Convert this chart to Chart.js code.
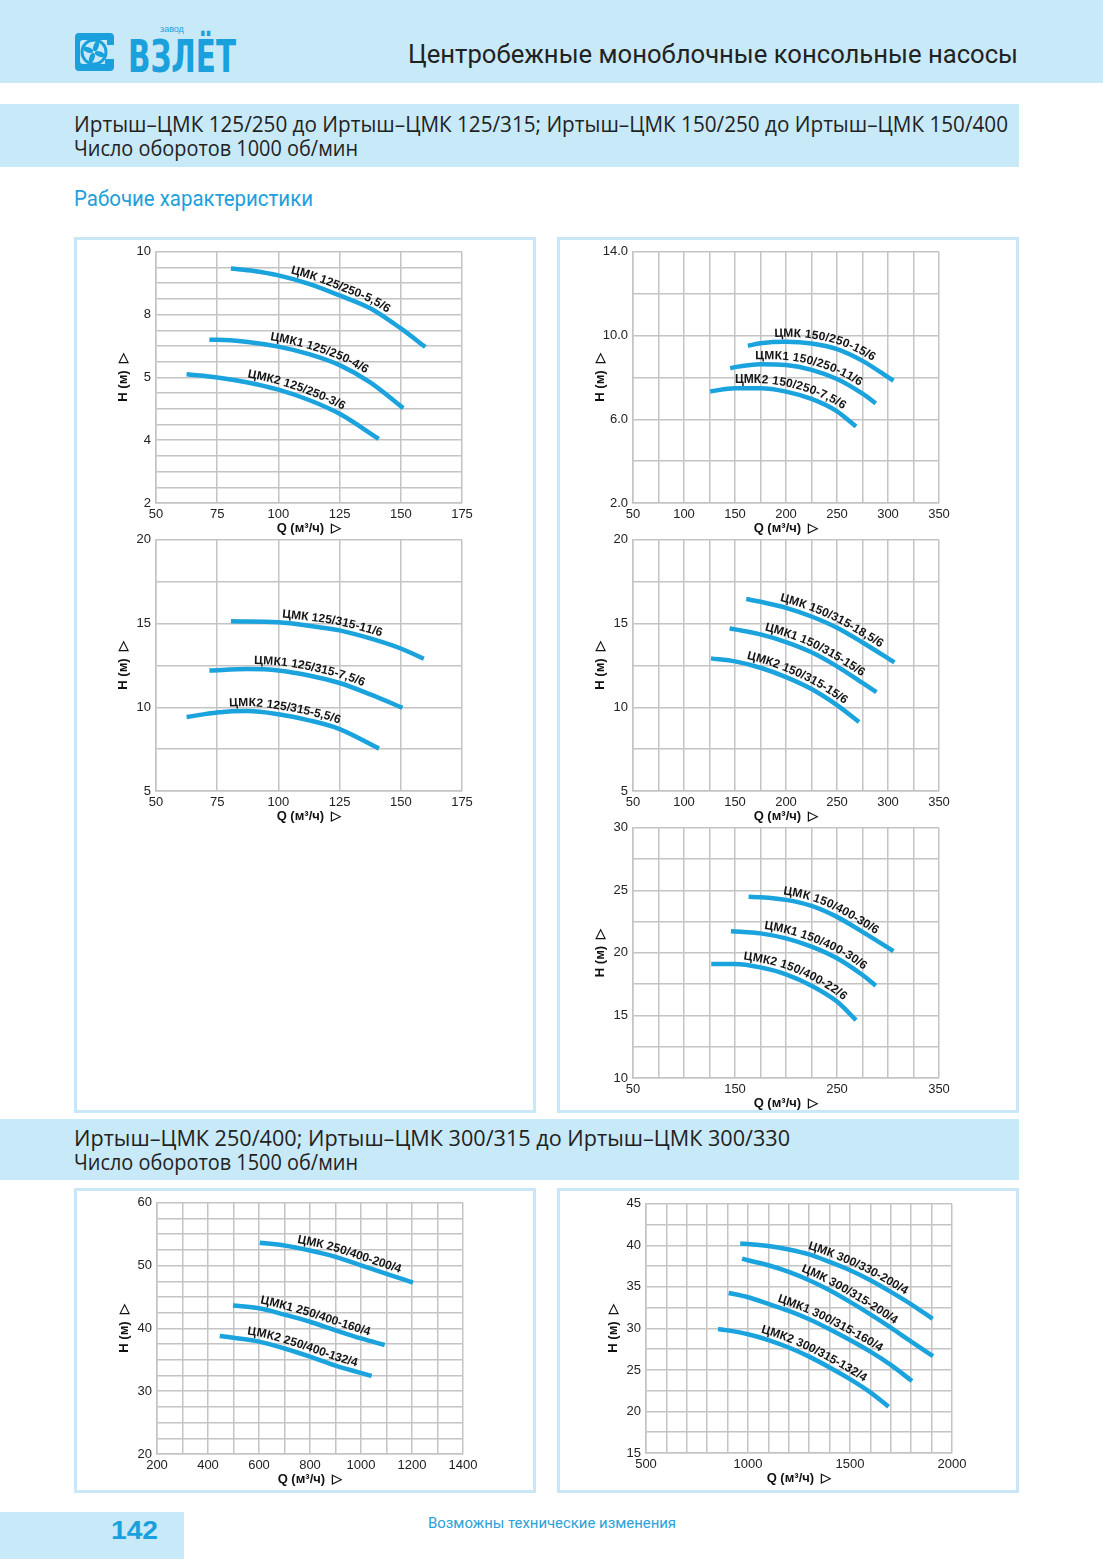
<!DOCTYPE html>
<html>
<head>
<meta charset="utf-8">
<script src="https://cdn.jsdelivr.net/npm/chart.js@4.4.0/dist/chart.umd.min.js"></script>
<style>
  body { margin: 0; width: 1103px; height: 1559px; position: relative; background: #fff; overflow: hidden; }
  .band { position: absolute; background: #c8e9f8; }
  .panel { position: absolute; border: 3px solid #c9e7f6; box-sizing: border-box; }
  .txt { position: absolute; white-space: nowrap; transform-origin: 0 0; }
  canvas { position: absolute; }
</style>
</head>
<body>

<div class="band" style="left:0;top:0;width:1103px;height:83px"></div>
<div class="band" style="left:0;top:104px;width:1019px;height:63px"></div>
<div class="band" style="left:0;top:1119px;width:1019px;height:61px"></div>
<div class="band" style="left:0;top:1512px;width:184px;height:47px"></div>

<div class="panel" style="left:74px;top:237px;width:462px;height:876px"></div>
<div class="panel" style="left:557px;top:237px;width:462px;height:876px"></div>
<div class="panel" style="left:74px;top:1188px;width:462px;height:305px"></div>
<div class="panel" style="left:557px;top:1188px;width:462px;height:305px"></div>

<!-- logo -->
<svg style="position:absolute;left:73px;top:31px" width="42" height="42" viewBox="0 0 42 42">
  <path d="M6 2 H37 a4 4 0 0 1 4 4 V14 H34 V9 H10 a3 3 0 0 0 -3 3 V30 a3 3 0 0 0 3 3 H32 V28 H41 V36 a4 4 0 0 1 -4 4 H6 a4 4 0 0 1 -4 -4 V6 a4 4 0 0 1 4 -4 z" fill="#1aa0dc"/>
  <circle cx="21" cy="21" r="12" fill="none" stroke="#1aa0dc" stroke-width="3"/>
  <g fill="#1aa0dc">
    <ellipse cx="21" cy="15" rx="2.6" ry="5" transform="rotate(20 21 21)"/>
    <ellipse cx="21" cy="15" rx="2.6" ry="5" transform="rotate(110 21 21)"/>
    <ellipse cx="21" cy="15" rx="2.6" ry="5" transform="rotate(200 21 21)"/>
    <ellipse cx="21" cy="15" rx="2.6" ry="5" transform="rotate(290 21 21)"/>
  </g>
</svg>
<div class="txt" id="logo" style="left:128px;top:35px;font:bold 44px 'DejaVu Sans Condensed','DejaVu Sans',sans-serif;line-height:44px;color:#1aa0dc">ВЗЛЁТ</div>
<div class="txt" style="left:160px;top:24px;font:9px 'Liberation Sans',Arial,sans-serif;color:#1aa0dc">завод</div>

<div class="txt" id="t-head" style="left:408px;top:42px;font:25px Roboto,sans-serif;line-height:25px;color:#222">Центробежные моноблочные консольные насосы</div>

<div class="txt" id="t-s1a" style="left:74px;top:114px;font:21px 'Open Sans',sans-serif;line-height:21px;color:#222">Иртыш–ЦМК 125/250 до Иртыш–ЦМК 125/315; Иртыш–ЦМК 150/250 до Иртыш–ЦМК 150/400</div>
<div class="txt" id="t-s1b" style="left:74px;top:138px;font:21px 'Open Sans',sans-serif;line-height:21px;color:#222">Число оборотов 1000 об/мин</div>
<div class="txt" id="t-work" style="left:74px;top:188px;font:22px Roboto,sans-serif;line-height:22px;color:#1e9fdb">Рабочие характеристики</div>

<div class="txt" id="t-s2a" style="left:74px;top:1128px;font:21px 'Open Sans',sans-serif;line-height:21px;color:#222">Иртыш–ЦМК 250/400; Иртыш–ЦМК 300/315 до Иртыш–ЦМК 300/330</div>
<div class="txt" id="t-s2b" style="left:74px;top:1152px;font:21px 'Open Sans',sans-serif;line-height:21px;color:#222">Число оборотов 1500 об/мин</div>

<div class="txt" id="t-page" style="left:111px;top:1518px;font:bold 25px 'Liberation Sans',Arial,sans-serif;line-height:25px;color:#1aa0dc">142</div>
<div class="txt" id="t-foot" style="left:428px;top:1516px;font:15px Roboto,sans-serif;line-height:15px;color:#2aa2d8">Возможны технические изменения</div>

<canvas id="c1"></canvas>
<canvas id="c2"></canvas>
<canvas id="c3"></canvas>
<canvas id="c4"></canvas>
<canvas id="c5"></canvas>
<canvas id="c6"></canvas>
<canvas id="c7"></canvas>

<script>
// ЦМК 125/250 (1000 об/мин)
const q1a = [80.6, 90, 100, 112.5, 125, 137.5, 150, 160];
const h1a = [9.47, 9.39, 9.25, 8.98, 8.61, 8.2, 7.56, 6.97];
const q1b = [71.8, 75, 87.5, 100, 112.5, 125, 137.5, 151];
const h1b = [7.2, 7.2, 7.13, 6.98, 6.74, 6.39, 5.84, 5.02];
const q1c = [62.5, 75, 87.5, 100, 112.5, 125, 141];
const h1c = [6.1, 6.0, 5.84, 5.61, 5.28, 4.84, 4.04];
const names1 = ['ЦМК 125/250-5,5/6', 'ЦМК1 125/250-4/6', 'ЦМК2 125/250-3/6'];
const at1 = [104, 95.8, 86.6];

// ЦМК 150/250
const q2a = [162.6, 175, 200, 225, 250, 275, 305.3];
const h2a = [9.51, 9.63, 9.7, 9.62, 9.35, 8.79, 7.84];
const q2b = [145.3, 150, 175, 200, 225, 250, 275, 288];
const h2b = [8.44, 8.49, 8.63, 8.59, 8.36, 7.92, 7.22, 6.76];
const q2c = [125.7, 150, 175, 200, 225, 250, 268.7];
const h2c = [7.33, 7.48, 7.48, 7.32, 6.97, 6.38, 5.65];
const names2 = ['ЦМК 150/250-15/6', 'ЦМК1 150/250-11/6', 'ЦМК2 150/250-7,5/6'];
const at2 = [188, 170, 150];

// ЦМК 125/315
const q3a = [80.6, 100, 112.5, 125, 137.5, 150, 159.4];
const h3a = [15.13, 15.07, 14.87, 14.59, 14.11, 13.51, 12.9];
const q3b = [71.8, 87.5, 100, 112.5, 125, 137.5, 150.7];
const h3b = [12.2, 12.28, 12.2, 11.9, 11.45, 10.77, 9.97];
const q3c = [62.5, 75, 87.5, 100, 112.5, 125, 141.1];
const h3c = [9.42, 9.69, 9.77, 9.58, 9.22, 8.7, 7.53];
const names3 = ['ЦМК 125/315-11/6', 'ЦМК1 125/315-7,5/6', 'ЦМК2 125/315-5,5/6'];
const at3 = [101, 90, 80];

// ЦМК 150/315
const q4a = [161, 175, 200, 225, 250, 275, 306.3];
const h4a = [16.46, 16.3, 15.94, 15.42, 14.75, 13.87, 12.68];
const q4b = [144.7, 150, 175, 200, 225, 250, 275, 288.7];
const h4b = [14.71, 14.65, 14.35, 13.89, 13.28, 12.44, 11.45, 10.91];
const q4c = [126.4, 150, 175, 200, 225, 250, 271.6];
const h4c = [12.92, 12.74, 12.36, 11.8, 11.09, 10.13, 9.12];
const names4 = ['ЦМК 150/315-18,5/6', 'ЦМК1 150/315-15/6', 'ЦМК2 150/315-15/6'];
const at4 = [192, 177, 160];

// ЦМК 150/400
const q5a = [163.3, 175, 200, 225, 250, 275, 305.3];
const h5a = [24.48, 24.45, 24.24, 23.76, 22.88, 21.68, 20.14];
const q5b = [146, 175, 200, 225, 250, 275, 288];
const h5b = [21.74, 21.56, 21.16, 20.5, 19.57, 18.23, 17.38];
const q5c = [126.7, 150, 175, 200, 225, 250, 268.7];
const h5c = [19.11, 19.11, 18.84, 18.29, 17.38, 16.11, 14.62];
const names5 = ['ЦМК 150/400-30/6', 'ЦМК1 150/400-30/6', 'ЦМК2 150/400-22/6'];
const at5 = [196, 177, 157];

// ЦМК 250/400 (1500 об/мин)
const q6a = [603, 700, 800, 900, 1000, 1100, 1204];
const h6a = [53.65, 53.2, 52.4, 51.4, 50.05, 48.7, 47.3];
const q6b = [498, 600, 700, 800, 900, 1000, 1093];
const h6b = [43.65, 43.2, 42.2, 41.06, 39.7, 38.4, 37.35];
const q6c = [446, 500, 600, 700, 800, 900, 1042];
const h6c = [38.8, 38.5, 37.9, 36.8, 35.5, 34.07, 32.43];
const names6 = ['ЦМК 250/400-200/4', 'ЦМК1 250/400-160/4', 'ЦМК2 250/400-132/4'];
const at6 = [744, 599, 550];

// ЦМК 300/315 - 300/330
const q7a = [962, 1000, 1100, 1200, 1300, 1400, 1500, 1600, 1700, 1800, 1905];
const h7a = [40.21, 40.17, 39.93, 39.5, 38.9, 38.0, 37.0, 35.8, 34.4, 32.9, 31.15];
const q7b = [971, 1000, 1100, 1200, 1300, 1400, 1500, 1600, 1700, 1800, 1907];
const h7b = [38.41, 38.2, 37.6, 36.8, 35.8, 34.6, 33.2, 31.7, 30.1, 28.4, 26.65];
const q7c = [905, 1000, 1100, 1200, 1300, 1400, 1500, 1600, 1700, 1804];
const h7c = [34.27, 33.75, 32.95, 32.1, 31.1, 29.9, 28.6, 27.2, 25.6, 23.66];
const q7d = [853, 900, 1000, 1100, 1200, 1300, 1400, 1500, 1600, 1689];
const h7d = [29.92, 29.76, 29.3, 28.6, 27.7, 26.6, 25.3, 23.9, 22.3, 20.58];
const names7 = ['ЦМК 300/330-200/4', 'ЦМК 300/315-200/4', 'ЦМК1 300/315-160/4', 'ЦМК2 300/315-132/4'];
const at7 = [1281, 1248, 1134, 1052];

// tick labels
const x125 = ['50', '75', '100', '125', '150', '175'];
const x150 = ['50', '100', '150', '200', '250', '300', '350'];
const x150w = ['50', '150', '250', '350'];
const x250 = ['200', '400', '600', '800', '1000', '1200', '1400'];
const x300 = ['500', '1000', '1500', '2000'];
const y1Ticks = ['2', '4', '5', '8', '10'];
const y2Ticks = ['2.0', '6.0', '10.0', '14.0'];
const y315 = ['5', '10', '15', '20'];
const y400 = ['10', '15', '20', '25', '30'];
const y250 = ['20', '30', '40', '50', '60'];
const y300 = ['15', '20', '25', '30', '35', '40', '45'];

const qTitle = 'Q (м³/ч)  ▷';
const hTitle = 'H (м)  ▷';
const gridColor = '#c4c4c4';
const curveColor = '#1ba3dd';

Chart.defaults.font.family = '"Liberation Sans", Arial, sans-serif';

function fit(id, w) {
  const el = document.getElementById(id);
  const r = el.getBoundingClientRect().width;
  el.style.transform = 'scaleX(' + (w / r) + ')';
}
fit('logo', 108);
fit('t-head', 610);
fit('t-s1a', 934);
fit('t-s1b', 284);
fit('t-work', 239);
fit('t-s2a', 716);
fit('t-s2b', 284);
fit('t-page', 47);
fit('t-foot', 248);

// draws the pump name along its curve, letter by letter
const curveLabels = {
  id: 'curveLabels',
  afterDatasetsDraw(chart) {
    const ctx = chart.ctx;
    const xs = chart.scales.x;
    ctx.save();
    ctx.font = 'bold 12px "Liberation Sans", Arial, sans-serif';
    ctx.fillStyle = '#151515';
    ctx.textBaseline = 'alphabetic';
    chart.data.datasets.forEach((ds, i) => {
      const pts = chart.getDatasetMeta(i).data;
      const path = [];
      for (let k = 0; k < pts.length - 1; k++) {
        const a = pts[k], b = pts[k + 1];
        const c1x = a.cp2x ?? a.x, c1y = a.cp2y ?? a.y;
        const c2x = b.cp1x ?? b.x, c2y = b.cp1y ?? b.y;
        for (let n = 0; n < 20; n++) {
          const t = n / 20, u = 1 - t;
          path.push([
            u*u*u*a.x + 3*u*u*t*c1x + 3*u*t*t*c2x + t*t*t*b.x,
            u*u*u*a.y + 3*u*u*t*c1y + 3*u*t*t*c2y + t*t*t*b.y
          ]);
        }
      }
      const last = pts[pts.length - 1];
      path.push([last.x, last.y]);
      const len = [0];
      for (let k = 1; k < path.length; k++) {
        len.push(len[k - 1] + Math.hypot(path[k][0] - path[k-1][0], path[k][1] - path[k-1][1]));
      }
      const at = s => {
        let k = 1;
        while (k < path.length - 1 && len[k] < s) k++;
        const p = path[k - 1], q = path[k];
        const f = (s - len[k - 1]) / ((len[k] - len[k - 1]) || 1);
        return { x: p[0] + (q[0] - p[0]) * f, y: p[1] + (q[1] - p[1]) * f, a: Math.atan2(q[1] - p[1], q[0] - p[0]) };
      };
      const sx = xs.getPixelForValue(ds.labelAt);
      let k0 = 0;
      while (k0 < path.length - 1 && path[k0][0] < sx) k0++;
      let s = len[k0];
      for (const ch of ds.label) {
        const w = ctx.measureText(ch).width;
        const p = at(s + w / 2);
        ctx.save();
        ctx.translate(p.x, p.y);
        ctx.rotate(p.a);
        ctx.fillText(ch, -w / 2, -5);
        ctx.restore();
        s += w;
      }
    });
    ctx.restore();
  }
};

function axis(min, max, step, labels, labelStep, title, isX) {
  return {
    type: 'linear',
    min: min,
    max: max,
    afterFit: s => { if (isX) s.height = 36; else s.width = 50; },
    ticks: {
      stepSize: step,
      autoSkip: false,
      maxRotation: 0,
      padding: isX ? 4 : 5,
      color: '#222',
      font: { size: 13 },
      callback: v => {
        const k = (v - min) / labelStep;
        const r = Math.round(k);
        return Math.abs(k - r) < 1e-6 ? labels[r] : '';
      }
    },
    grid: { color: gridColor, lineWidth: 1.5, drawTicks: false },
    border: { color: gridColor, width: 1.5 },
    title: {
      display: true,
      text: title,
      color: '#111',
      font: { size: 13, weight: 'bold' },
      padding: isX ? { top: 0, bottom: 3 } : { top: 10, bottom: 0 }
    }
  };
}

function makeChart(id, box, xAxis, yAxis, qs, hs, names, ats) {
  const cv = document.getElementById(id);
  const w = 50 + box.w + 26, h = 12 + box.h + 36;
  cv.width = w; cv.height = h;
  cv.style.width = w + 'px'; cv.style.height = h + 'px';
  cv.style.left = (box.left - 50) + 'px';
  cv.style.top = (box.top - 12) + 'px';
  new Chart(cv, {
    type: 'line',
    data: {
      datasets: qs.map((q, i) => ({
        label: names[i],
        labelAt: ats[i],
        data: q.map((x, j) => ({ x: x, y: hs[i][j] })),
        borderColor: curveColor,
        borderWidth: 4.5,
        cubicInterpolationMode: 'monotone',
        pointRadius: 0,
        fill: false
      }))
    },
    options: {
      responsive: false,
      animation: false,
      layout: { padding: { top: 12, right: 26, left: 0, bottom: 0 } },
      plugins: { legend: { display: false }, tooltip: { enabled: false } },
      scales: { x: xAxis, y: yAxis }
    },
    plugins: [curveLabels]
  });
}

makeChart('c1', { left: 156, top: 251, w: 306, h: 252 },
  axis(50, 175, 25, x125, 25, qTitle, true), axis(2, 10, 0.5, y1Ticks, 2, hTitle, false),
  [q1a, q1b, q1c], [h1a, h1b, h1c], names1, at1);
makeChart('c3', { left: 156, top: 539, w: 306, h: 252 },
  axis(50, 175, 25, x125, 25, qTitle, true), axis(5, 20, 2.5, y315, 5, hTitle, false),
  [q3a, q3b, q3c], [h3a, h3b, h3c], names3, at3);
makeChart('c2', { left: 633, top: 251, w: 306, h: 252 },
  axis(50, 350, 25, x150, 50, qTitle, true), axis(2, 14, 2, y2Ticks, 4, hTitle, false),
  [q2a, q2b, q2c], [h2a, h2b, h2c], names2, at2);
makeChart('c4', { left: 633, top: 539, w: 306, h: 252 },
  axis(50, 350, 25, x150, 50, qTitle, true), axis(5, 20, 2.5, y315, 5, hTitle, false),
  [q4a, q4b, q4c], [h4a, h4b, h4c], names4, at4);
makeChart('c5', { left: 633, top: 827, w: 306, h: 251 },
  axis(50, 350, 25, x150w, 100, qTitle, true), axis(10, 30, 2.5, y400, 5, hTitle, false),
  [q5a, q5b, q5c], [h5a, h5b, h5c], names5, at5);
makeChart('c6', { left: 157, top: 1202, w: 306, h: 252 },
  axis(200, 1400, 100, x250, 200, qTitle, true), axis(20, 60, 2.5, y250, 10, hTitle, false),
  [q6a, q6b, q6c], [h6a, h6b, h6c], names6, at6);
makeChart('c7', { left: 646, top: 1203, w: 306, h: 250 },
  axis(500, 2000, 100, x300, 500, qTitle, true), axis(15, 45, 2.5, y300, 5, hTitle, false),
  [q7a, q7b, q7c, q7d], [h7a, h7b, h7c, h7d], names7, at7);
</script>
</body>
</html>
